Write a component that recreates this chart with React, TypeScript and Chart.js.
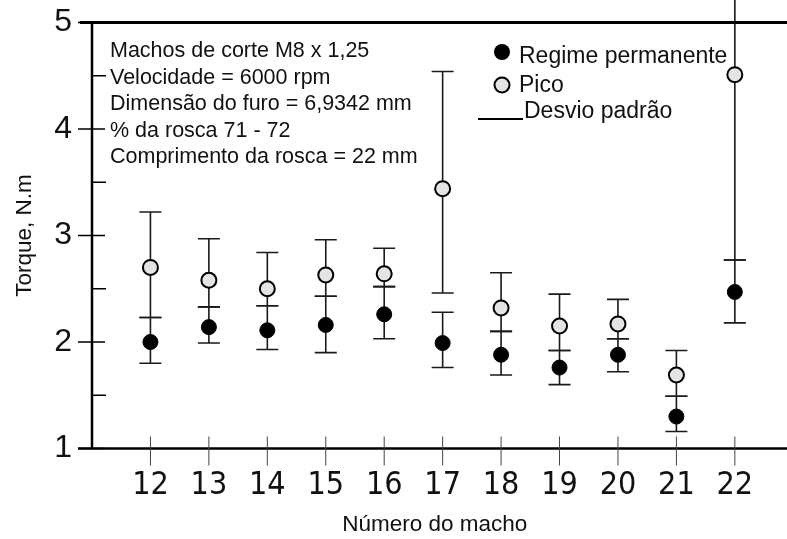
import React, { useEffect, useRef } from "react";
import { Chart, registerables } from "chart.js";

Chart.register(...registerables);

const categories = [12, 13, 14, 15, 16, 17, 18, 19, 20, 21, 22];
const peak = [2.70, 2.58, 2.50, 2.63, 2.64, 3.44, 2.32, 2.15, 2.17, 1.69, 4.51];
const peakHigh = [3.22, 2.97, 2.84, 2.96, 2.88, 4.54, 2.65, 2.45, 2.40, 1.92, 6.3];
const peakLow = [2.23, 2.33, 2.34, 2.43, 2.52, 2.46, 2.10, 1.92, 2.03, 1.49, 2.77];
const regime = [2.00, 2.14, 2.11, 2.16, 2.26, 1.99, 1.88, 1.76, 1.88, 1.30, 2.47];
const regimeHigh = [2.23, 2.33, 2.34, 2.43, 2.52, 2.28, 2.10, 1.92, 2.03, 1.49, 2.77];
const regimeLow = [1.80, 1.99, 1.93, 1.90, 2.03, 1.76, 1.69, 1.60, 1.72, 1.16, 2.18];
const yTicks = [1, 2, 3, 4, 5];
const yMinorTicks = [1.5, 2.5, 3.5, 4.5];
const notes = [
  "Machos de corte M8 x 1,25",
  "Velocidade = 6000 rpm",
  "Dimensão do furo = 6,9342 mm",
  "% da rosca 71 - 72",
  "Comprimento da rosca = 22 mm",
];
const legendLabels = ["Regime permanente", "Pico", "Desvio padrão"];

const SANS = "'Liberation Sans', Arial, sans-serif";
const NARROW = "'Liberation Sans Narrow', 'DejaVu Sans Condensed', 'Liberation Sans', sans-serif";

const errorBarPlugin = {
  id: "errorBars",
  beforeDatasetsDraw(chart: any) {
    const { ctx, scales } = chart;
    const xs = scales.x;
    const ys = scales.y;
    ctx.save();
    ctx.strokeStyle = "#1a1a1a";
    ctx.lineWidth = 1.6;
    const cap = 11;
    const drawBar = (x: number, lo: number, hi: number) => {
      const px = xs.getPixelForValue(x);
      const pLo = ys.getPixelForValue(lo);
      const pHi = ys.getPixelForValue(hi);
      ctx.beginPath();
      ctx.moveTo(px, pLo);
      ctx.lineTo(px, pHi);
      ctx.moveTo(px - cap, pLo);
      ctx.lineTo(px + cap, pLo);
      ctx.moveTo(px - cap, pHi);
      ctx.lineTo(px + cap, pHi);
      ctx.stroke();
    };
    categories.forEach((c, i) => {
      drawBar(c, peakLow[i], peakHigh[i]);
      drawBar(c, regimeLow[i], regimeHigh[i]);
    });
    ctx.restore();
  },
};

const framePlugin = {
  id: "frame",
  afterDraw(chart: any) {
    const { ctx, scales, chartArea } = chart;
    const xs = scales.x;
    const ys = scales.y;
    const L = chartArea.left;
    const R = chart.width;
    const T = chartArea.top;
    const B = chartArea.bottom;
    ctx.save();
    ctx.strokeStyle = "#000";
    ctx.lineWidth = 2.5;
    ctx.beginPath();
    ctx.moveTo(L, T);
    ctx.lineTo(L, B);
    ctx.moveTo(L - 14, B);
    ctx.lineTo(R, B);
    ctx.stroke();
    ctx.lineWidth = 3;
    ctx.beginPath();
    ctx.moveTo(L - 12, T);
    ctx.lineTo(R, T);
    ctx.stroke();
    ctx.lineWidth = 1.5;
    ctx.beginPath();
    yTicks.forEach((v) => {
      const py = ys.getPixelForValue(v);
      ctx.moveTo(L - 14, py);
      ctx.lineTo(L + 13, py);
    });
    yMinorTicks.forEach((v) => {
      const py = ys.getPixelForValue(v);
      ctx.moveTo(L, py);
      ctx.lineTo(L + 14, py);
    });
    ctx.stroke();
    ctx.strokeStyle = "#444";
    ctx.lineWidth = 1;
    ctx.beginPath();
    categories.forEach((c) => {
      const px = xs.getPixelForValue(c);
      ctx.moveTo(px, B - 12);
      ctx.lineTo(px, B + 17);
    });
    ctx.stroke();

    ctx.fillStyle = "#111";
    ctx.font = `21.5px ${SANS}`;
    ctx.textAlign = "left";
    ctx.textBaseline = "alphabetic";
    notes.forEach((t, i) => {
      ctx.fillText(t, 110, 57 + i * 26.6);
    });

    ctx.font = `23px ${SANS}`;
    ctx.beginPath();
    ctx.arc(502, 52, 8, 0, Math.PI * 2);
    ctx.fillStyle = "#000";
    ctx.fill();
    ctx.beginPath();
    ctx.arc(502, 85, 7.5, 0, Math.PI * 2);
    ctx.fillStyle = "#e4e4e4";
    ctx.fill();
    ctx.lineWidth = 2;
    ctx.strokeStyle = "#000";
    ctx.stroke();
    ctx.beginPath();
    ctx.moveTo(478, 119);
    ctx.lineTo(523, 119);
    ctx.lineWidth = 2;
    ctx.stroke();
    ctx.fillStyle = "#111";
    ctx.fillText(legendLabels[0], 519, 63);
    ctx.fillText(legendLabels[1], 519, 92);
    ctx.fillText(legendLabels[2], 524, 118);
    ctx.restore();
  },
};

export default function App() {
  const ref = useRef<HTMLCanvasElement | null>(null);
  useEffect(() => {
    if (!ref.current) return;
    const chart = new Chart(ref.current, {
      type: "scatter",
      data: {
        datasets: [
          {
            label: "Pico",
            data: categories.map((c, i) => ({ x: c, y: peak[i] })),
            pointRadius: 7.5,
            pointBackgroundColor: "#e4e4e4",
            pointBorderColor: "#000",
            pointBorderWidth: 2,
            order: 2,
          },
          {
            label: "Regime permanente",
            data: categories.map((c, i) => ({ x: c, y: regime[i] })),
            pointRadius: 7.5,
            pointBackgroundColor: "#000",
            pointBorderColor: "#000",
            pointBorderWidth: 1,
            order: 1,
          },
        ],
      },
      options: {
        responsive: false,
        animation: false,
        layout: { padding: { top: 22.5, right: 0, left: 0, bottom: 0 } },
        plugins: {
          legend: { display: false },
          tooltip: { enabled: false },
        },
        scales: {
          x: {
            type: "linear",
            min: 11,
            max: 22.73,
            border: { display: false },
            grid: { display: false, drawTicks: false },
            afterBuildTicks: (axis: any) => {
              axis.ticks = categories.map((v) => ({ value: v }));
            },
            afterFit: (scale: any) => {
              scale.height = 90.5;
              scale.paddingLeft = 0;
              scale.paddingRight = 0;
            },
            ticks: {
              autoSkip: false,
              maxRotation: 0,
              padding: 18,
              color: "#111",
              font: { family: NARROW, size: 32 },
              callback: (v: any) => String(v),
            },
            title: {
              display: true,
              text: "Número do macho",
              color: "#111",
              font: { family: SANS, size: 22.5 },
              padding: { top: 0, bottom: 1 },
            },
          },
          y: {
            min: 1,
            max: 5,
            border: { display: false },
            grid: { display: false, drawTicks: false },
            afterBuildTicks: (axis: any) => {
              axis.ticks = yTicks.map((v) => ({ value: v }));
            },
            afterFit: (scale: any) => {
              scale.width = 92;
              scale.paddingTop = 0;
              scale.paddingBottom = 0;
            },
            ticks: {
              padding: 20,
              color: "#111",
              font: { family: SANS, size: 32 },
            },
            title: {
              display: true,
              text: "Torque, N.m",
              color: "#111",
              font: { family: SANS, size: 22.5 },
              padding: { top: 11, bottom: 0 },
            },
          },
        },
      },
      plugins: [errorBarPlugin, framePlugin],
    });
    return () => chart.destroy();
  }, []);
  return (
    <div style={{ position: "fixed", left: 0, top: 0, width: 787, height: 539, background: "#fff" }}>
      <canvas ref={ref} width={787} height={539} style={{ display: "block" }} />
    </div>
  );
}
